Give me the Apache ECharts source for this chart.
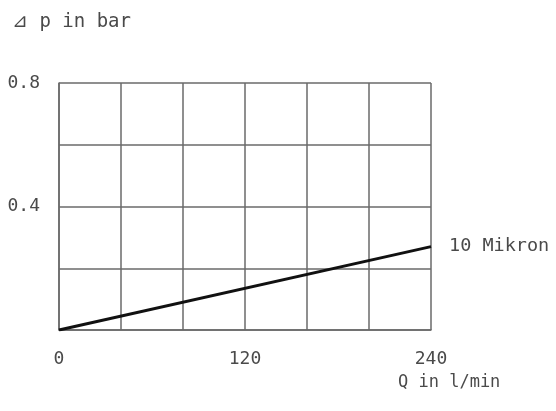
<!DOCTYPE html>
<html>
<head>
<meta charset="utf-8">
<script src="https://cdn.jsdelivr.net/npm/echarts@6/dist/echarts.min.js"></script>
<style>
  html, body { margin: 0; padding: 0; background: #fff; }
  #chart { width: 556px; height: 411px; }
</style>
</head>
<body>
<div id="chart"></div>
<script>
// flow rate Q in l/min and pressure drop in bar
const flowValues = [0, 240];
const pressureDrop = [0, 0.27];
const seriesName = '10 Mikron';
const xLabelTicks = [0, 120, 240];
const yLabelTicks = [0.4, 0.8];

const textColor = '#4a4a4a';
const gridColor = '#6a6a6a';
const font = 'DejaVu Sans Mono';

const chart = echarts.init(document.getElementById('chart'));

const option = {
  animation: false,
  backgroundColor: '#fff',
  grid: { left: 59, right: 125, top: 83, bottom: 81 },
  graphic: [
    {
      type: 'text', left: 12, top: 13,
      style: { text: '⊿ p in bar', fill: textColor, font: '19px "' + font + '"' }
    },
    {
      type: 'text', left: 398, top: 374,
      style: { text: 'Q in l/min', fill: textColor, font: '17px "' + font + '"' }
    }
  ],
  xAxis: {
    type: 'value',
    min: 0, max: 240, interval: 40,
    axisLine: { show: true, lineStyle: { color: gridColor, width: 1.5 } },
    axisTick: { show: false },
    splitLine: { show: true, lineStyle: { color: gridColor, width: 1.5 } },
    axisLabel: {
      margin: 20,
      color: textColor, fontFamily: font, fontSize: 18,
      formatter: v => xLabelTicks.includes(v) ? String(v) : ''
    }
  },
  yAxis: {
    type: 'value',
    min: 0, max: 0.8, interval: 0.2,
    axisLine: { show: true, lineStyle: { color: gridColor, width: 1.5 } },
    axisTick: { show: false },
    splitLine: { show: true, lineStyle: { color: gridColor, width: 1.5 } },
    axisLabel: {
      margin: 19,
      color: textColor, fontFamily: font, fontSize: 18,
      formatter: v => yLabelTicks.some(t => Math.abs(t - v) < 1e-9) ? v.toFixed(1) : ''
    }
  },
  series: [{
    name: seriesName,
    type: 'line',
    data: flowValues.map((q, i) => [q, pressureDrop[i]]),
    symbol: 'none',
    lineStyle: { color: '#111', width: 3 },
    endLabel: {
      show: true,
      distance: 18,
      formatter: seriesName,
      color: textColor, fontFamily: font, fontSize: 18.5
    }
  }]
};

chart.setOption(option);
</script>
</body>
</html>
